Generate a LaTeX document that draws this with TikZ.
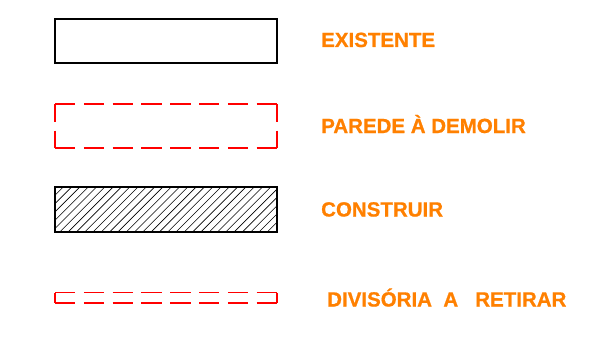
\documentclass[tikz,border=0pt]{standalone}
\usepackage{fontspec}
\setmainfont{Liberation Sans}[BoldFeatures={FakeBold=0.8}]
\definecolor{legorange}{RGB}{255,128,0}
\tikzset{
  parede/.style={draw=black, line width=2pt},
  demolir/.style={draw=red, line width=2pt},
  hdash/.style={dash pattern=on 20.4pt off 8.4pt},
  vdash/.style={dash pattern=on 17.5pt off 9pt},
  rotulo/.style={anchor=base west, inner sep=0pt, text=legorange,
    font=\fontsize{20.5}{24}\selectfont\bfseries},
}

\begin{document}
\begin{tikzpicture}[x=1pt, y=-1pt]
    \useasboundingbox (0,0) rectangle (605,337);
    % existente
    \path[parede] (55,19.3) rectangle (277,63.3);
    % parede a demolir
    \path[demolir, hdash] (55,104) -- (277,104) (55,148.3) -- (277,148.3);
    \path[demolir, vdash] (55,104) -- (55,148.3) (277,104) -- (277,148.3);
    % construir
    \begin{scope}
      \clip (55,186.7) rectangle (277,231.7);
      \foreach \i in {-1,...,32}
        \path[draw, line width=0.6pt] (18.3+\i*8.3,232) -- ++(46,-46);
    \end{scope}
    \path[parede] (55,186.7) rectangle (277,231.7);
    % divisoria
    \path[demolir, hdash, line width=1.6pt] (55,292.5) -- (277,292.5) (55,303) -- (277,303);
    \path[demolir, line width=1.6pt] (55,292.5) -- (55,303) (277,292.5) -- (277,303);

    \node[rotulo] (leg-1) at (321,47) {EXISTENTE};
    \node[rotulo] (leg-2) at (321,133) {PAREDE À DEMOLIR};
    \node[rotulo] (leg-3) at (321,216.5) {CONSTRUIR};
    \node[rotulo] (leg-4) at (327,306.5) {DIVISÓRIA~~A~~~RETIRAR};
\end{tikzpicture}
\end{document}
